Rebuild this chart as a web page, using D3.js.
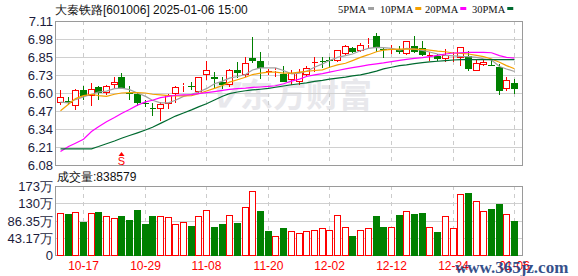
<!DOCTYPE html>
<html lang="zh">

<head>
    <meta charset="UTF-8">
    <title>大秦铁路 K线</title>
    <style>
        body { margin: 0; background: #fff; }
        svg { display: block; font-family: "Liberation Sans", Arial, sans-serif; }
    </style>
</head>

<body>
    <script src="https://cdn.jsdelivr.net/npm/d3@7"></script>
    <script>
        // 交易日
        var dates = ['10-14', '10-15', '10-16', '10-17', '10-18', '10-21', '10-22', '10-23', '10-24', '10-25',
            '10-28', '10-29', '10-30', '10-31', '11-01', '11-04', '11-05', '11-06', '11-07', '11-08',
            '11-11', '11-12', '11-13', '11-14', '11-15', '11-18', '11-19', '11-20', '11-21', '11-22',
            '11-25', '11-26', '11-27', '11-28', '11-29', '12-02', '12-03', '12-04', '12-05', '12-06',
            '12-09', '12-10', '12-11', '12-12', '12-13', '12-16', '12-17', '12-18', '12-19', '12-20',
            '12-23', '12-24', '12-25', '12-26', '12-27', '12-30', '12-31', '01-02', '01-03', '01-06'];

        var open = [6.52, 6.536, 6.50, 6.619, 6.576, 6.638, 6.595, 6.65, 6.708, 6.597,
            6.586, 6.524, 6.491, 6.477, 6.515, 6.59, 6.642, 6.642, 6.602, 6.727,
            6.713, 6.673, 6.65, 6.756, 6.727, 6.843, 6.822, 6.749, 6.752, 6.732,
            6.685, 6.673, 6.727, 6.815, 6.825, 6.828, 6.827, 6.874, 6.914, 6.897,
            6.94, 7.004, 6.91, 6.905, 6.909, 6.874, 6.933, 6.914, 6.865, 6.862,
            6.838, 6.862, 6.845, 6.862, 6.749, 6.798, 6.796, 6.784, 6.626, 6.666];
        var high = [6.614, 6.567, 6.626, 6.642, 6.666, 6.645, 6.65, 6.713, 6.737, 6.642,
            6.595, 6.543, 6.524, 6.531, 6.59, 6.642, 6.666, 6.673, 6.713, 6.822,
            6.744, 6.708, 6.767, 6.815, 6.855, 6.992, 6.886, 6.767, 6.775, 6.791,
            6.756, 6.767, 6.791, 6.855, 6.855, 6.855, 6.905, 6.94, 6.926, 6.956,
            6.987, 7.027, 6.926, 6.94, 6.933, 6.968, 7.004, 6.968, 6.886, 6.874,
            6.909, 6.886, 6.921, 6.893, 6.838, 6.838, 6.831, 6.803, 6.708, 6.697];
        var low = [6.508, 6.508, 6.472, 6.543, 6.50, 6.548, 6.578, 6.626, 6.626, 6.548,
            6.50, 6.496, 6.43, 6.394, 6.48, 6.524, 6.602, 6.614, 6.59, 6.685,
            6.626, 6.626, 6.638, 6.704, 6.708, 6.808, 6.697, 6.727, 6.713, 6.673,
            6.649, 6.649, 6.708, 6.744, 6.775, 6.775, 6.815, 6.869, 6.879, 6.886,
            6.909, 6.886, 6.845, 6.874, 6.874, 6.869, 6.879, 6.857, 6.827, 6.827,
            6.82, 6.82, 6.791, 6.749, 6.749, 6.791, 6.789, 6.579, 6.609, 6.59];
        var close = [6.567, 6.524, 6.614, 6.576, 6.623, 6.597, 6.642, 6.673, 6.633, 6.59,
            6.527, 6.515, 6.486, 6.515, 6.58, 6.638, 6.652, 6.638, 6.713, 6.756,
            6.694, 6.654, 6.76, 6.737, 6.808, 6.822, 6.775, 6.754, 6.76, 6.673,
            6.737, 6.742, 6.772, 6.82, 6.822, 6.824, 6.905, 6.933, 6.886, 6.94,
            6.945, 6.916, 6.905, 6.91, 6.886, 6.964, 6.89, 6.867, 6.87, 6.838,
            6.866, 6.868, 6.921, 6.767, 6.808, 6.815, 6.791, 6.609, 6.685, 6.626];

        // 成交量 (万)
        var volume = [105.6, 103, 107, 83, 105.6, 108, 97, 92, 98, 87,
            113, 78, 98, 97, 95, 77, 82, 73, 97, 112,
            71, 77, 100, 81, 120, 160, 111, 60, 47, 67,
            60, 55, 60, 62, 67, 62, 100, 70, 47, 62,
            67, 98, 70, 70, 100, 110, 103, 105, 70, 58,
            97, 67, 152, 155, 134, 111, 115, 127, 102, 83.8579];

        // 均线
        var ma5 = [6.53, 6.524, 6.548, 6.567, 6.586, 6.602, 6.609, 6.626, 6.63, 6.619,
            6.595, 6.571, 6.543, 6.524, 6.524, 6.543, 6.571, 6.586, 6.602, 6.626,
            6.661, 6.68, 6.701, 6.713, 6.727, 6.76, 6.775, 6.775, 6.775, 6.756,
            6.732, 6.737, 6.751, 6.779, 6.803, 6.827, 6.85, 6.862, 6.874, 6.897,
            6.914, 6.921, 6.919, 6.914, 6.902, 6.914, 6.909, 6.9, 6.888, 6.874,
            6.864, 6.86, 6.857, 6.855, 6.85, 6.84, 6.831, 6.784, 6.767, 6.749];
        var ma10 = [6.468, 6.515, 6.555, 6.576, 6.586, 6.576, 6.571, 6.586, 6.595, 6.597,
            6.597, 6.595, 6.586, 6.581, 6.576, 6.574, 6.574, 6.576, 6.59, 6.609,
            6.628, 6.649, 6.673, 6.69, 6.708, 6.727, 6.737, 6.744, 6.744, 6.737,
            6.737, 6.744, 6.749, 6.756, 6.76, 6.779, 6.796, 6.808, 6.827, 6.85,
            6.869, 6.89, 6.902, 6.907, 6.909, 6.909, 6.909, 6.907, 6.902, 6.895,
            6.89, 6.881, 6.879, 6.874, 6.864, 6.855, 6.838, 6.815, 6.791, 6.768];
        var ma20 = [6.177, 6.212, 6.236, 6.264, 6.319, 6.354, 6.39, 6.42, 6.449, 6.477,
            6.508, 6.531, 6.543, 6.562, 6.571, 6.579, 6.581, 6.583, 6.59, 6.597,
            6.605, 6.614, 6.621, 6.626, 6.63, 6.635, 6.638, 6.642, 6.647, 6.661,
            6.68, 6.694, 6.713, 6.725, 6.734, 6.744, 6.756, 6.767, 6.777, 6.786,
            6.796, 6.803, 6.81, 6.82, 6.829, 6.836, 6.843, 6.848, 6.855, 6.864,
            6.874, 6.881, 6.883, 6.886, 6.886, 6.886, 6.883, 6.862, 6.85, 6.845];
        var ma30 = [6.196, 6.196, 6.196, 6.196, 6.196, 6.212, 6.232, 6.252, 6.271, 6.291,
            6.31, 6.33, 6.35, 6.378, 6.405, 6.43, 6.452, 6.474, 6.496, 6.518,
            6.545, 6.572, 6.59, 6.602, 6.611, 6.617, 6.622, 6.628, 6.636, 6.645,
            6.654, 6.661, 6.668, 6.678, 6.685, 6.694, 6.701, 6.708, 6.718, 6.725,
            6.737, 6.751, 6.767, 6.779, 6.791, 6.796, 6.805, 6.812, 6.817, 6.822,
            6.827, 6.831, 6.834, 6.834, 6.834, 6.834, 6.834, 6.834, 6.834, 6.834];

        // 刻度
        var priceTicks = ['6.08', '6.21', '6.34', '6.47', '6.60', '6.73', '6.85', '6.98', '7.11'];
        var volTicks = ['0', '43.17万', '86.35万', '130万', '173万'];
        var dateTicks = ['10-17', '10-29', '11-08', '11-20', '12-02', '12-12', '12-24', '01-06'];
        var maNames = ['5PMA', '10PMA', '20PMA', '30PMA'];
        var signals = [{ date: '10-24', text: 'S' }];

        var W = 578, H = 276;
        var left = 55.5, right = 522.5;
        var mainTop = 21, mainBottom = 165;
        var volTop = 186, volBottom = 255;
        var priceMin = 6.08, priceMax = 7.11, volMax = 172.7;
        var RED = '#ff0000', GREEN = '#008000';
        var maColors = ['#a0a0a0', '#f4a000', '#ff00ff', '#006a30'];

        var svg = d3.select('body').append('svg').attr('width', W).attr('height', H);

        var x = d3.scaleBand().domain(dates).range([56, 518]).paddingInner(0.35).paddingOuter(0.175);
        var cx = function (d) { return Math.round(x(d) + x.bandwidth() / 2) + 0.5; };
        var y = d3.scaleLinear().domain([priceMin, priceMax]).range([mainBottom, mainTop]);
        var yv = d3.scaleLinear().domain([0, volMax]).range([volBottom, volTop]);

        //水印
        var wm = svg.append('g').attr('fill', '#e8e8ec');
        wm.append('text').attr('x', 206).attr('y', 107).attr('font-size', 34).attr('font-weight', 'bold')
            .attr('font-style', 'italic').attr('font-family', 'Noto Sans CJK SC').text('\u2207');
        wm.append('text').attr('x', 240).attr('y', 107).attr('font-size', 33).attr('font-weight', 'bold')
            .attr('font-family', 'Noto Sans CJK SC').text('东方财富');

        //网格
        var grid = svg.append('g').attr('shape-rendering', 'crispEdges');
        var pStep = (priceMax - priceMin) / (priceTicks.length - 1);
        priceTicks.forEach(function (t, k) {
            var yy = Math.round(y(priceMin + k * pStep)) + 0.5;
            if (k > 0 && k < priceTicks.length - 1) {
                grid.append('line').attr('x1', left).attr('x2', right).attr('y1', yy).attr('y2', yy).attr('stroke', '#d0d0d0');
            }
            svg.append('text').attr('x', 53).attr('y', yy).attr('text-anchor', 'end').attr('dy', '0.35em')
                .attr('font-size', 13).attr('fill', '#1c1c3c').text(t);
        });
        var vStep = volMax / (volTicks.length - 1);
        volTicks.forEach(function (t, k) {
            var yy = Math.round(yv(k * vStep)) + 0.5;
            if (k > 0 && k < volTicks.length - 1) {
                grid.append('line').attr('x1', left).attr('x2', right).attr('y1', yy).attr('y2', yy).attr('stroke', '#d0d0d0');
            }
            svg.append('text').attr('x', 53).attr('y', yy).attr('text-anchor', 'end').attr('dy', '0.35em')
                .attr('font-size', 13).attr('fill', '#1c1c3c').text(t);
        });
        dateTicks.forEach(function (d) {
            var xx = cx(d);
            grid.append('line').attr('x1', xx).attr('x2', xx).attr('y1', mainTop).attr('y2', mainBottom)
                .attr('stroke', '#cccccc').attr('stroke-dasharray', '4,4');
            grid.append('line').attr('x1', xx).attr('x2', xx).attr('y1', volTop).attr('y2', volBottom)
                .attr('stroke', '#cccccc').attr('stroke-dasharray', '4,4');
            svg.append('text').attr('x', xx).attr('y', 270).attr('text-anchor', 'middle')
                .attr('font-size', 12).attr('fill', RED).text(d);
        });

        //边框
        [[mainTop, mainBottom], [volTop, volBottom]].forEach(function (p) {
            grid.append('rect').attr('x', left).attr('y', p[0] + 0.5).attr('width', right - left).attr('height', p[1] - p[0])
                .attr('fill', 'none').attr('stroke', '#9a9a9a');
        });

        //K线
        var candles = svg.append('g').attr('shape-rendering', 'crispEdges');
        dates.forEach(function (d, i) {
            var up = close[i] >= open[i];
            var col = up ? RED : GREEN;
            var xx = cx(d);
            var top = Math.round(y(Math.max(open[i], close[i])));
            var bot = Math.round(y(Math.min(open[i], close[i])));
            candles.append('line').attr('x1', xx).attr('x2', xx).attr('y1', y(high[i])).attr('y2', up ? top : y(low[i]))
                .attr('stroke', col);
            if (up) {
                candles.append('line').attr('x1', xx).attr('x2', xx).attr('y1', bot).attr('y2', y(low[i])).attr('stroke', col);
            }
            if (bot - top < 1) {
                candles.append('line').attr('x1', xx - 3).attr('x2', xx + 3).attr('y1', top + 0.5).attr('y2', top + 0.5).attr('stroke', col);
            } else if (up) {
                candles.append('rect').attr('x', xx - 3).attr('y', top + 0.5).attr('width', 6).attr('height', bot - top - 1)
                    .attr('fill', '#fff').attr('stroke', col);
            } else {
                candles.append('rect').attr('x', xx - 3.5).attr('y', top).attr('width', 7).attr('height', bot - top).attr('fill', col);
            }
        });

        //均线
        var line = d3.line().x(function (d, i) { return cx(dates[i]); }).y(function (d) { return y(d); });
        [ma5, ma10, ma20, ma30].forEach(function (m, k) {
            svg.append('path').attr('d', line(m)).attr('fill', 'none').attr('stroke', maColors[k]).attr('stroke-width', 1.2);
        });

        //信号
        signals.forEach(function (s) {
            var xx = cx(s.date);
            svg.append('path').attr('d', 'M' + (xx - 3) + ',' + 156 + 'L' + xx + ',' + 152 + 'L' + (xx + 3) + ',' + 156 + 'Z').attr('fill', RED);
            svg.append('text').attr('x', xx).attr('y', 165).attr('text-anchor', 'middle').attr('font-size', 11)
                .attr('fill', RED).text(s.text);
        });

        //成交量
        var bars = svg.append('g').attr('shape-rendering', 'crispEdges');
        dates.forEach(function (d, i) {
            var up = i === 0 ? close[i] >= open[i] : close[i] >= close[i - 1];
            var xx = cx(d);
            var top = Math.round(yv(volume[i]));
            if (up) {
                bars.append('rect').attr('x', xx - 3).attr('y', top + 0.5).attr('width', 6).attr('height', volBottom - top)
                    .attr('fill', '#fff').attr('stroke', RED);
            } else {
                bars.append('rect').attr('x', xx - 3.5).attr('y', top).attr('width', 7).attr('height', volBottom - top + 1).attr('fill', GREEN);
            }
        });

        //标题
        svg.append('text').attr('x', 55).attr('y', 14).attr('font-size', 12).attr('fill', '#111')
            .text('大秦铁路[601006] 2025-01-06 15:00');
        svg.append('text').attr('x', 57).attr('y', 181).attr('font-size', 12).attr('fill', '#111')
            .text('成交量:' + Math.round(volume[volume.length - 1] * 10000));

        //图例
        var lx = [338, 380, 425, 472];
        maNames.forEach(function (n, k) {
            var t = svg.append('text').attr('x', lx[k]).attr('y', 13).attr('font-size', 10.5)
                .attr('font-family', 'Liberation Serif').attr('fill', '#111').text(n);
            var w = t.node().getComputedTextLength();
            svg.append('rect').attr('x', lx[k] + w + 2).attr('y', 7).attr('width', 6).attr('height', 3).attr('fill', maColors[k]);
        });

        //网址水印
        svg.append('text').attr('x', 455).attr('y', 273).attr('font-size', 17).attr('font-weight', 'bold')
            .attr('font-family', 'Liberation Serif').attr('fill', '#1f3f80').attr('opacity', 0.9).text('www.365jz.com');
    </script>
</body>

</html>
